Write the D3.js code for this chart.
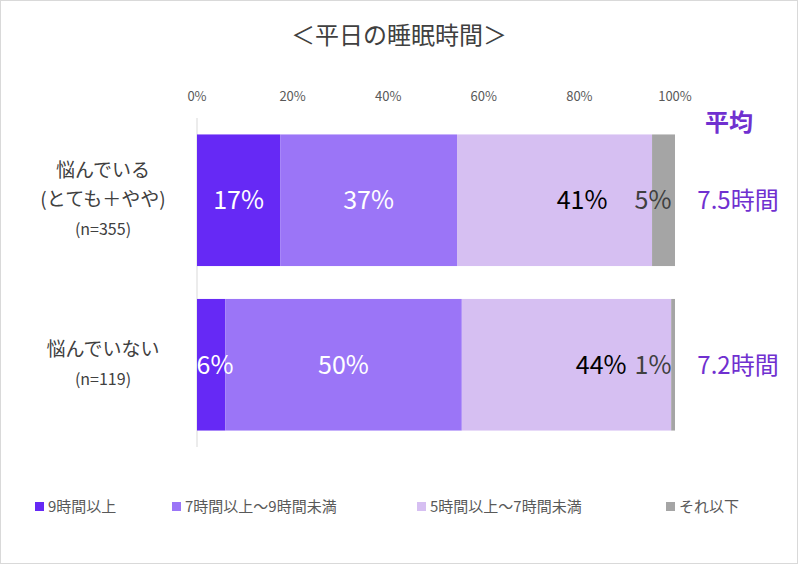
<!DOCTYPE html>
<html><head><meta charset="utf-8">
<script src="https://cdn.jsdelivr.net/npm/d3@7"></script>
<style>body{margin:0;background:#fff}</style>
</head><body>
<svg id="c" width="798" height="564"></svg>
<script>
var groups = [["悩んでいる", "(とても＋やや)", "(n=355)"], ["悩んでいない", "(n=119)"]];
var seriesNames = ["9時間以上", "7時間以上～9時間未満", "5時間以上～7時間未満", "それ以下"];
var colors = ["#6629f5", "#9b75f7", "#d6bff2", "#a5a5a5"];
var values = [[17.4, 37.0, 40.8, 4.8], [5.9, 49.5, 43.8, 0.8]];
var labels = [["17%", "37%", "41%", "5%"], ["6%", "50%", "44%", "1%"]];
var labelColors = ["#fff", "#fff", "#000", "#404040"];
var averages = ["7.5時間", "7.2時間"];
var ticks = [0, 20, 40, 60, 80, 100];

var font = "'Noto Sans CJK JP', sans-serif";
var svg = d3.select("#c");
svg.append("rect").attr("x", 0.5).attr("y", 0.5).attr("width", 797).attr("height", 563)
  .attr("fill", "#fff").attr("stroke", "#d9d9d9");

svg.append("text").attr("x", 399).attr("y", 44).attr("text-anchor", "middle")
  .attr("font-family", font).attr("font-size", 24).attr("fill", "#404040").text("＜平日の睡眠時間＞");

var x = d3.scaleLinear().domain([0, 100]).range([197, 675]);
var y = d3.scaleBand().domain([0, 1]).range([118, 447]).paddingInner(0.2).paddingOuter(0.1);

svg.append("line").attr("x1", 197).attr("x2", 197).attr("y1", 118).attr("y2", 447).attr("stroke", "#d9d9d9");

svg.append("g").selectAll("text").data(ticks).join("text")
  .attr("x", function (d) { return x(d); }).attr("y", 101).attr("text-anchor", "middle")
  .attr("font-family", font).attr("font-size", 13).attr("fill", "#595959")
  .text(function (d) { return d + "%"; });

values.forEach(function (row, i) {
  var acc = 0;
  var g = svg.append("g");
  row.forEach(function (v, j) {
    var x0 = acc; acc += v;
    g.append("rect").attr("x", x(x0)).attr("y", y(i)).attr("width", x(acc) - x(x0))
      .attr("height", y.bandwidth()).attr("fill", colors[j]);
  });
  // value labels
  var cum = 0;
  row.forEach(function (v, j) {
    var mid = cum + v / 2; cum += v;
    var lx = x(mid);
    if (j == 2) lx = x(cum) - 70;
    if (j == 3) lx = x(cum) - 22;
    if (j == 0 && v < 10) lx = x(0) + 18;
    g.append("text").attr("x", lx).attr("y", y(i) + y.bandwidth() / 2 + 9)
      .attr("text-anchor", "middle").attr("font-family", font).attr("font-size", 25)
      .attr("fill", labelColors[j]).text(labels[i][j]);
  });
  var lines = groups[i];
  var cy = y(i) + y.bandwidth() / 2;
  lines.forEach(function (t, k) {
    svg.append("text").attr("x", 103).attr("y", cy + (k - (lines.length - 1) / 2) * 29 + 6)
      .attr("text-anchor", "middle").attr("font-family", font)
      .attr("font-size", k == 0 ? 19 : (t.charAt(1) == "n" ? 16 : 19)).attr("fill", "#404040").text(t);
  });
  svg.append("text").attr("x", 738).attr("y", cy + 9).attr("text-anchor", "middle")
    .attr("font-family", font).attr("font-size", 24).attr("fill", "#7030d0").text(averages[i]);
});
svg.append("text").attr("x", 729).attr("y", 131).attr("text-anchor", "middle")
  .attr("font-family", font).attr("font-size", 24).attr("font-weight", "bold").attr("fill", "#7030d0").text("平均");

var lx = [35, 172, 417, 666];
seriesNames.forEach(function (s, j) {
  svg.append("rect").attr("x", lx[j]).attr("y", 502).attr("width", 9).attr("height", 9).attr("fill", colors[j]);
  svg.append("text").attr("x", lx[j] + 13).attr("y", 512).attr("font-family", font)
    .attr("font-size", 15).attr("fill", "#595959").text(s);
});
</script>
</body></html>
